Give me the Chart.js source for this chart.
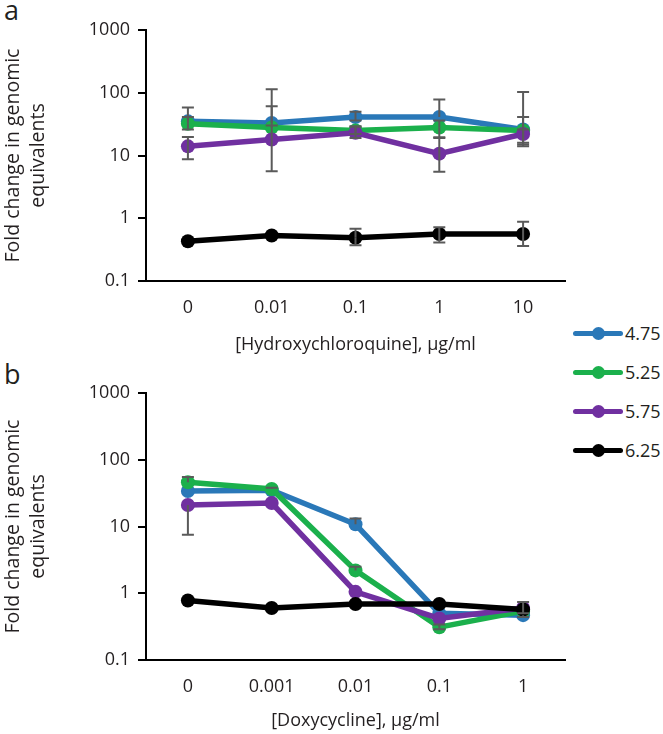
<!DOCTYPE html>
<html>
<head>
<meta charset="utf-8">
<script src="https://cdn.jsdelivr.net/npm/chart.js@4.4.1/dist/chart.umd.min.js"></script>
<style>
  body { margin: 0; background: #fff; width: 663px; height: 734px; position: relative; overflow: hidden; font-family: "Open Sans", sans-serif; color: #231f20; }
  .wrap { position: absolute; left: 0; width: 572px; }
  #wrapA { top: 0; height: 360px; }
  #wrapB { top: 360px; height: 374px; }
  .tag { position: absolute; left: 4px; font-size: 27px; line-height: 1; }
  #legend { position: absolute; left: 573px; top: 314px; }
  .item { position: relative; height: 39px; width: 90px; }
  .item .ln { position: absolute; left: 0; top: 17px; width: 50px; height: 5px; border-radius: 3px; }
  .item .dot { position: absolute; left: 19px; top: 13px; width: 13px; height: 13px; border-radius: 50%; }
  .item span { position: absolute; left: 52px; top: 6px; font-size: 18px; line-height: 26px; }
</style>
</head>
<body>
<div class="tag" style="top:-4px">a</div>
<div class="tag" style="top:360px">b</div>
<div class="wrap" id="wrapA"><canvas id="chartA"></canvas></div>
<div class="wrap" id="wrapB"><canvas id="chartB"></canvas></div>
<div id="legend"></div>
<script>
// categories
const hcqDoses = ["0", "0.01", "0.1", "1", "10"];
const doxDoses = ["0", "0.001", "0.01", "0.1", "1"];
const yTicks = [0.1, 1, 10, 100, 1000];
const phLevels = ["4.75", "5.25", "5.75", "6.25"];

// panel a: hydroxychloroquine
const hcq475 = [35, 33, 41, 41, 26];
const hcq475Hi = [58, 114, 50, 78, 103];
const hcq475Lo = [null, null, 36, null, 16];
const hcq525 = [32, 28, 25, 28, 25];
const hcq525Hi = [41, 61, 29, 36, 41];
const hcq525Lo = [26, null, 22, 19, 14];
const hcq575 = [14, 18, 23, 10.7, 22];
const hcq575Hi = [19.8, 30, 29, 19.5, 26];
const hcq575Lo = [8.7, 5.6, 19, 5.5, 15];
const hcq625 = [0.43, 0.53, 0.49, 0.56, 0.56];
const hcq625Hi = [null, null, 0.68, 0.72, 0.88];
const hcq625Lo = [null, null, 0.37, 0.41, 0.36];

// panel b: doxycycline
const dox475 = [34, 35, 10.8, 0.5, 0.47];
const dox475Hi = [null, null, 13.2, null, null];
const dox475Lo = [null, null, null, null, 0.44];
const dox525 = [46, 36.5, 2.2, 0.31, 0.54];
const dox525Hi = [55, 38, 2.5, 0.34, null];
const dox525Lo = [null, null, null, 0.29, null];
const dox575 = [21, 22.5, 1.05, 0.42, 0.6];
const dox575Hi = [null, null, null, null, 0.74];
const dox575Lo = [7.5, null, null, null, 0.5];
const dox625 = [0.78, 0.6, 0.69, 0.69, 0.57];
const dox625Hi = [null, null, null, null, null];
const dox625Lo = [null, null, null, null, null];

const colors = ["#2a78b8", "#1bb04c", "#7030a0", "#000000"];
const textColor = "#231f20";

// gray error bars with caps
const errorBars = {
  id: "errorBars",
  afterDatasetsDraw(chart) {
    const ctx = chart.ctx;
    const y = chart.scales.y;
    ctx.save();
    ctx.strokeStyle = "#5a5a5a";
    ctx.lineWidth = 2;
    chart.data.datasets.forEach((ds, i) => {
      const meta = chart.getDatasetMeta(i);
      ds.data.forEach((v, j) => {
        const x = meta.data[j].x;
        const yv = y.getPixelForValue(v);
        [ds.errHi[j], ds.errLo[j]].forEach((e) => {
          if (e == null) return;
          const ye = y.getPixelForValue(e);
          ctx.beginPath();
          ctx.moveTo(x, yv);
          ctx.lineTo(x, ye);
          ctx.moveTo(x - 6, ye);
          ctx.lineTo(x + 6, ye);
          ctx.stroke();
        });
      });
    });
    ctx.restore();
  }
};

function makePanel(id, doses, values, his, los, xTitle, padTop, xHeight, titlePad) {
  const datasets = values.map((vals, i) => ({
    label: phLevels[i],
    data: vals,
    errHi: his[i],
    errLo: los[i],
    borderColor: colors[i],
    backgroundColor: colors[i],
    pointBackgroundColor: colors[i],
    borderWidth: 5.5,
    pointRadius: 7,
    pointBorderWidth: 0,
    tension: 0,
    order: 3 - i,
  }));

  return new Chart(document.getElementById(id), {
    type: "line",
    data: { labels: doses, datasets: datasets },
    options: {
      responsive: true,
      maintainAspectRatio: false,
      animation: false,
      layout: { padding: { top: padTop, right: 2, left: 0, bottom: 0 } },
      plugins: { legend: { display: false }, tooltip: { enabled: false } },
      scales: {
        x: {
          offset: true,
          grid: { display: false, drawTicks: false },
          border: { color: "#000", width: 2 },
          ticks: { color: textColor, font: { family: "Open Sans", size: 18 }, padding: 16 },
          title: {
            display: true,
            text: xTitle,
            color: textColor,
            font: { family: "Open Sans", size: 18, lineHeight: 1.45 },
            padding: { top: 0, bottom: titlePad },
          },
          afterFit: (s) => { s.height = xHeight; },
        },
        y: {
          type: "logarithmic",
          min: 0.1,
          max: 1000,
          afterBuildTicks: (s) => { s.ticks = yTicks.map((v) => ({ value: v })); },
          grid: { drawOnChartArea: false, drawTicks: true, tickLength: 8, color: "#000", lineWidth: 2 },
          border: { color: "#000", width: 2 },
          ticks: { color: textColor, font: { family: "Open Sans", size: 18 }, padding: 8, callback: (v) => String(v) },
          title: {
            display: true,
            text: ["Fold change in genomic", "equivalents"],
            color: textColor,
            font: { family: "Open Sans", size: 19.5, lineHeight: 1.33 },
            padding: { top: 0, bottom: 0 },
          },
          afterFit: (s) => { s.width = 146; },
        },
      },
    },
    plugins: [errorBars],
  });
}

makePanel("chartA", hcqDoses,
  [hcq475, hcq525, hcq575, hcq625],
  [hcq475Hi, hcq525Hi, hcq575Hi, hcq625Hi],
  [hcq475Lo, hcq525Lo, hcq575Lo, hcq625Lo],
  "[Hydroxychloroquine], \u00b5g/ml", 30, 79, 2);

makePanel("chartB", doxDoses,
  [dox475, dox525, dox575, dox625],
  [dox475Hi, dox525Hi, dox575Hi, dox625Hi],
  [dox475Lo, dox525Lo, dox575Lo, dox625Lo],
  "[Doxycycline], \u00b5g/ml", 33, 74, 0);

// shared legend
const legend = document.getElementById("legend");
phLevels.forEach((name, i) => {
  const item = document.createElement("div");
  item.className = "item";
  item.innerHTML = `<div class="ln" style="background:${colors[i]}"></div>` +
    `<div class="dot" style="background:${colors[i]}"></div><span>${name}</span>`;
  legend.appendChild(item);
});
</script>
</body>
</html>
